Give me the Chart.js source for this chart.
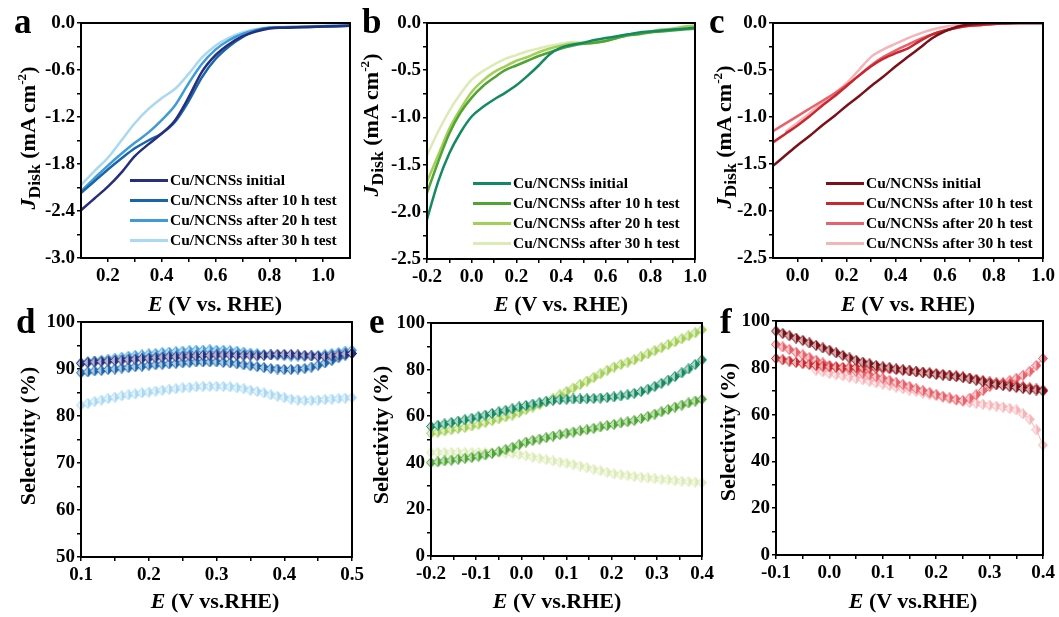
<!DOCTYPE html>
<html lang="en">
<head>
<meta charset="UTF-8">
<title>Cu/NCNSs stability</title>
<script src="https://cdn.jsdelivr.net/npm/chart.js"></script>
<style>
  body { margin: 0; background: #fff; }
  #fig { position: relative; width: 1059px; height: 617px; overflow: hidden;
         font-family: "Liberation Serif", "Times New Roman", serif; font-weight: bold; color: #000; }
  #fig canvas { position: absolute; left: 0; top: 0; }
  .lbl { position: absolute; white-space: nowrap; line-height: 1; }
  .letter { font-size: 35px; }
  .xt { font-size: 22px; transform: translateX(-50%); }
  .yt { font-size: 22px; transform: translate(-50%, -50%) rotate(-90deg); }
  .yt sub { font-size: 0.8em; vertical-align: -0.25em; }
  .yt sup { font-size: 0.6em; vertical-align: 0.7em; }
  .leg { position: absolute; font-size: 15.5px; line-height: 1; }
  .leg div { height: 20px; display: flex; align-items: center; white-space: nowrap; }
  .leg .sw { display: inline-block; width: 38px; height: 3px; margin-right: 2px; }
</style>
</head>
<body>
<div id="fig">
  <canvas id="pa" width="1059" height="617"></canvas>
  <canvas id="pb" width="1059" height="617"></canvas>
  <canvas id="pc" width="1059" height="617"></canvas>
  <canvas id="pd" width="1059" height="617"></canvas>
  <canvas id="pe" width="1059" height="617"></canvas>
  <canvas id="pf" width="1059" height="617"></canvas>

  <div class="lbl letter" style="left:14px;top:4px">a</div>
  <div class="lbl letter" style="left:362px;top:4px">b</div>
  <div class="lbl letter" style="left:709px;top:4px">c</div>
  <div class="lbl letter" style="left:16px;top:304px">d</div>
  <div class="lbl letter" style="left:369px;top:304px">e</div>
  <div class="lbl letter" style="left:720px;top:304px">f</div>

  <div class="lbl yt" style="left:29px;top:138px"><i>J</i><sub>Disk</sub> (mA cm<sup>-2</sup>)</div>
  <div class="lbl yt" style="left:372px;top:125px"><i>J</i><sub>Disk</sub> (mA cm<sup>-2</sup>)</div>
  <div class="lbl yt" style="left:725px;top:137px"><i>J</i><sub>Disk</sub> (mA cm<sup>-2</sup>)</div>
  <div class="lbl yt" style="left:28px;top:436px">Selectivity (%)</div>
  <div class="lbl yt" style="left:381px;top:435px">Selectivity (%)</div>
  <div class="lbl yt" style="left:728px;top:432px">Selectivity (%)</div>

  <div class="lbl xt" style="left:215px;top:293px"><i>E</i> (V vs. RHE)</div>
  <div class="lbl xt" style="left:561px;top:293px"><i>E</i> (V vs. RHE)</div>
  <div class="lbl xt" style="left:908px;top:293px"><i>E</i> (V vs. RHE)</div>
  <div class="lbl xt" style="left:215px;top:590px"><i>E</i> (V vs.RHE)</div>
  <div class="lbl xt" style="left:557px;top:590px"><i>E</i> (V vs.RHE)</div>
  <div class="lbl xt" style="left:913px;top:590px"><i>E</i> (V vs.RHE)</div>

  <div class="leg" id="lega" style="left:130px;top:170px"></div>
  <div class="leg" id="legb" style="left:473px;top:173px"></div>
  <div class="leg" id="legc" style="left:826px;top:173px"></div>
</div>

<script>
    // ---- series names ----
    const seriesNames = ['Cu/NCNSs initial', 'Cu/NCNSs after 10 h test', 'Cu/NCNSs after 20 h test', 'Cu/NCNSs after 30 h test'];

    // ---- panel a : LSV (blue) ----
    const aE    = [0.10, 0.15, 0.20, 0.25, 0.30, 0.35, 0.40, 0.45, 0.50, 0.55, 0.60, 0.65, 0.70, 0.75, 0.80, 0.85, 0.90, 0.95, 1.00, 1.05, 1.10];
    const aInit = [-2.39, -2.24, -2.09, -1.91, -1.70, -1.55, -1.41, -1.24, -0.95, -0.62, -0.41, -0.27, -0.17, -0.11, -0.07, -0.06, -0.055, -0.05, -0.045, -0.04, -0.035];
    const a10   = [-2.17, -2.02, -1.87, -1.73, -1.60, -1.50, -1.41, -1.26, -1.00, -0.69, -0.46, -0.30, -0.18, -0.10, -0.065, -0.06, -0.055, -0.05, -0.045, -0.04, -0.035];
    const a20   = [-2.15, -1.98, -1.82, -1.67, -1.53, -1.40, -1.24, -1.05, -0.77, -0.52, -0.34, -0.22, -0.14, -0.09, -0.06, -0.055, -0.05, -0.045, -0.04, -0.035, -0.03];
    const a30   = [-2.07, -1.89, -1.72, -1.50, -1.28, -1.10, -0.96, -0.84, -0.65, -0.44, -0.29, -0.19, -0.12, -0.08, -0.055, -0.05, -0.045, -0.04, -0.035, -0.03, -0.03];

    // ---- panel b : LSV (green) ----
    const bE    = [-0.20, -0.15, -0.10, -0.05, 0.00, 0.05, 0.10, 0.15, 0.20, 0.25, 0.30, 0.35, 0.40, 0.45, 0.50, 0.55, 0.60, 0.65, 0.70, 0.75, 0.80, 0.85, 0.90, 0.95, 1.00];
    const bInit = [-2.08, -1.68, -1.38, -1.16, -0.99, -0.89, -0.81, -0.74, -0.66, -0.56, -0.45, -0.33, -0.26, -0.23, -0.21, -0.18, -0.16, -0.14, -0.12, -0.10, -0.09, -0.08, -0.07, -0.06, -0.05];
    const b10   = [-1.80, -1.47, -1.17, -0.95, -0.79, -0.67, -0.58, -0.50, -0.45, -0.40, -0.35, -0.31, -0.27, -0.24, -0.22, -0.21, -0.19, -0.16, -0.13, -0.12, -0.10, -0.09, -0.08, -0.07, -0.06];
    const b20   = [-1.68, -1.40, -1.12, -0.91, -0.73, -0.61, -0.52, -0.46, -0.40, -0.36, -0.31, -0.27, -0.24, -0.22, -0.22, -0.21, -0.19, -0.16, -0.13, -0.11, -0.09, -0.07, -0.06, -0.04, -0.03];
    const b30   = [-1.40, -1.15, -0.93, -0.75, -0.60, -0.51, -0.44, -0.38, -0.34, -0.30, -0.27, -0.24, -0.22, -0.20, -0.20, -0.19, -0.17, -0.15, -0.13, -0.11, -0.09, -0.07, -0.06, -0.04, -0.02];

    // ---- panel c : LSV (red) ----
    const cE    = [-0.10, -0.05, 0.00, 0.05, 0.10, 0.15, 0.20, 0.25, 0.30, 0.35, 0.40, 0.45, 0.50, 0.55, 0.60, 0.65, 0.70, 0.75, 0.80, 0.85, 0.90, 0.95, 1.00];
    const cInit = [-1.52, -1.41, -1.30, -1.20, -1.09, -0.99, -0.88, -0.78, -0.67, -0.57, -0.46, -0.36, -0.26, -0.16, -0.09, -0.04, -0.015, -0.005, 0, 0, 0, 0, 0];
    const c10   = [-1.27, -1.18, -1.09, -0.99, -0.88, -0.78, -0.67, -0.56, -0.46, -0.38, -0.32, -0.27, -0.19, -0.12, -0.08, -0.05, -0.03, -0.02, -0.01, -0.005, 0, 0, 0];
    const c20   = [-1.15, -1.07, -0.99, -0.91, -0.83, -0.75, -0.66, -0.56, -0.45, -0.36, -0.29, -0.23, -0.17, -0.12, -0.08, -0.05, -0.03, -0.02, -0.01, -0.005, 0, 0, 0];
    const c30   = [null, -1.16, -1.06, -0.96, -0.85, -0.75, -0.64, -0.50, -0.36, -0.28, -0.22, -0.16, -0.11, -0.07, -0.04, -0.02, -0.01, -0.005, 0, 0, 0, 0, 0];

    // ---- panel d : selectivity (blue) ----
    const dE    = [0.10, 0.11, 0.12, 0.13, 0.14, 0.15, 0.16, 0.17, 0.18, 0.19, 0.20, 0.21, 0.22, 0.23, 0.24, 0.25, 0.26, 0.27, 0.28, 0.29, 0.30,
                   0.31, 0.32, 0.33, 0.34, 0.35, 0.36, 0.37, 0.38, 0.39, 0.40, 0.41, 0.42, 0.43, 0.44, 0.45, 0.46, 0.47, 0.48, 0.49, 0.50];
    const dInit = [91.2, 91.4, 91.5, 91.6, 91.7, 91.8, 91.9, 92.0, 92.1, 92.2, 92.3, 92.4, 92.5, 92.6, 92.6, 92.7, 92.8, 92.8, 92.9, 92.9, 93.0,
                   93.0, 93.0, 92.9, 92.9, 92.9, 92.8, 92.9, 93.0, 93.1, 93.1, 93.1, 93.0, 92.9, 92.8, 92.7, 92.7, 92.8, 93.0, 93.2, 93.3];
    const d10   = [89.2, 89.4, 89.6, 89.7, 89.9, 90.0, 90.2, 90.3, 90.5, 90.6, 90.8, 90.9, 91.0, 91.1, 91.2, 91.3, 91.4, 91.5, 91.5, 91.5, 91.5,
                   91.4, 91.3, 91.1, 90.9, 90.7, 90.5, 90.3, 90.1, 90.0, 89.9, 89.9, 90.0, 90.1, 90.4, 90.8, 91.3, 91.8, 92.4, 92.9, 93.3];
    const d20   = [91.3, 91.5, 91.7, 91.9, 92.1, 92.3, 92.5, 92.7, 92.9, 93.0, 93.2, 93.3, 93.5, 93.6, 93.7, 93.8, 93.9, 94.0, 94.0, 94.1, 94.0,
                   94.0, 93.9, 93.8, 93.6, 93.4, 93.3, 93.1, 93.0, 92.9, 92.8, 92.7, 92.7, 92.7, 92.8, 92.9, 93.1, 93.3, 93.5, 93.8, 94.0];
    const d30   = [82.3, 82.7, 83.1, 83.4, 83.7, 84.0, 84.3, 84.5, 84.7, 84.9, 85.1, 85.3, 85.5, 85.7, 85.8, 86.0, 86.1, 86.2, 86.3, 86.3, 86.3,
                   86.3, 86.2, 86.0, 85.8, 85.5, 85.2, 84.9, 84.5, 84.2, 83.9, 83.6, 83.4, 83.3, 83.3, 83.4, 83.5, 83.6, 83.7, 83.8, 83.9];

    // ---- panel e : selectivity (green) ----
    const eE    = [-0.200, -0.185, -0.170, -0.155, -0.140, -0.125, -0.110, -0.095, -0.080, -0.065, -0.050, -0.035, -0.020, -0.005,
                   0.010, 0.025, 0.040, 0.055, 0.070, 0.085, 0.100, 0.115, 0.130, 0.145, 0.160, 0.175, 0.190, 0.205,
                   0.220, 0.235, 0.250, 0.265, 0.280, 0.295, 0.310, 0.325, 0.340, 0.355, 0.370, 0.385, 0.400];
    const eInit = [55.6, 56.1, 56.7, 57.3, 57.9, 58.5, 59.1, 59.8, 60.5, 61.2, 61.9, 62.5, 63.2, 64.0,
                   64.6, 65.2, 65.8, 66.4, 66.8, 67.1, 67.3, 67.4, 67.4, 67.5, 67.6, 67.8, 68.0, 68.3,
                   68.7, 69.2, 69.8, 70.6, 71.6, 72.8, 74.1, 75.5, 77.0, 78.6, 80.3, 82.2, 84.2];
    const e10   = [40.1, 40.4, 40.8, 41.1, 41.5, 41.9, 42.3, 42.8, 43.4, 44.0, 44.8, 45.7, 46.7, 47.8,
                   48.9, 49.6, 50.2, 50.8, 51.5, 52.1, 52.7, 53.2, 53.7, 54.2, 54.8, 55.4, 56.0, 56.5,
                   57.1, 57.6, 58.2, 59.0, 59.9, 60.9, 61.9, 62.9, 63.9, 64.8, 65.7, 66.5, 67.3];
    const e20   = [52.7, 53.2, 53.7, 54.2, 54.7, 55.2, 55.8, 56.5, 57.3, 58.1, 58.9, 59.7, 60.5, 61.6,
                   62.8, 63.9, 65.0, 66.1, 67.6, 69.1, 70.6, 72.1, 73.6, 75.1, 76.6, 78.2, 79.7, 81.1,
                   82.2, 83.2, 84.2, 85.5, 86.8, 88.1, 89.4, 90.7, 91.9, 93.2, 94.5, 95.8, 97.1];
    const e30   = [44.4, 44.4, 44.4, 44.4, 44.4, 44.4, 44.4, 44.4, 44.4, 44.4, 44.3, 44.2, 44.0, 43.6,
                   43.0, 42.4, 41.9, 41.3, 40.8, 40.3, 39.8, 39.2, 38.6, 37.9, 37.2, 36.6, 35.9, 35.3,
                   34.9, 34.5, 34.1, 33.8, 33.5, 33.2, 32.9, 32.7, 32.4, 32.1, 31.9, 31.7, 31.5];

    // ---- panel f : selectivity (red) ----
    const fE    = [-0.1, -0.0875, -0.075, -0.0625, -0.05, -0.0375, -0.025, -0.0125, 0, 0.0125, 0.025, 0.0375, 0.05, 0.0625,
                   0.075, 0.0875, 0.1, 0.1125, 0.125, 0.1375, 0.15, 0.1625, 0.175, 0.1875, 0.2, 0.2125, 0.225, 0.2375,
                   0.25, 0.2625, 0.275, 0.2875, 0.3, 0.3125, 0.325, 0.3375, 0.35, 0.3625, 0.375, 0.3875, 0.4];
    const fInit = [95.7, 94.7, 93.7, 92.7, 91.7, 90.6, 89.6, 88.5, 87.5, 86.4, 85.3, 84.2, 83.2, 82.4,
                   81.7, 81.0, 80.4, 80.0, 79.5, 79.1, 78.7, 78.3, 77.9, 77.6, 77.2, 76.9, 76.5, 76.2,
                   75.8, 75.3, 74.7, 74.0, 73.3, 72.9, 72.4, 72.0, 71.6, 71.2, 70.8, 70.5, 70.1];
    const f10   = [84.0, 83.4, 82.9, 82.3, 81.8, 81.4, 81.0, 80.7, 80.4, 80.3, 80.2, 80.2, 80.1, 80.0,
                   79.9, 79.8, 79.7, 79.5, 79.2, 79.0, 78.7, 78.4, 78.1, 77.8, 77.5, 77.2, 76.8, 76.5,
                   76.1, 75.6, 75.1, 74.5, 74.0, 73.6, 73.2, 72.9, 72.5, 72.0, 71.5, 71.0, 70.5];
    const f20   = [90.0, 88.9, 87.8, 86.6, 85.5, 84.4, 83.2, 82.1, 81.0, 80.4, 79.7, 79.1, 78.5, 77.7,
                   77.0, 76.2, 75.5, 74.6, 73.7, 72.9, 72.0, 71.1, 70.2, 69.4, 68.5, 67.8, 67.1, 66.5,
                   66.0, 67.0, 68.5, 70.3, 72.0, 72.8, 73.6, 74.5, 75.5, 76.8, 78.5, 81.0, 84.0];
    const f30   = [null, null, null, null, null, null, 79.0, 78.3, 77.6, 77.1, 76.6, 76.0, 75.5, 74.9,
                   74.2, 73.6, 73.0, 72.4, 71.7, 71.1, 70.5, 69.9, 69.2, 68.6, 68.0, 67.4, 66.7, 66.1,
                   65.5, 65.1, 64.8, 64.4, 64.0, 63.6, 63.2, 62.6, 62.0, 60.3, 58.0, 53.5, 47.0];

    // ---- tick values and labels ----
    const aXTicks = [0.2, 0.4, 0.6, 0.8, 1.0],               aXLabels = ['0.2', '0.4', '0.6', '0.8', '1.0'];
    const aXMinor = [0.3, 0.5, 0.7, 0.9];
    const aYTicks = [0, -0.6, -1.2, -1.8, -2.4, -3.0],       aYLabels = ['0.0', '-0.6', '-1.2', '-1.8', '-2.4', '-3.0'];
    const aYMinor = [-0.3, -0.9, -1.5, -2.1, -2.7];
    const bXTicks = [-0.2, 0, 0.2, 0.4, 0.6, 0.8, 1.0],      bXLabels = ['-0.2', '0.0', '0.2', '0.4', '0.6', '0.8', '1.0'];
    const bXMinor = [-0.1, 0.1, 0.3, 0.5, 0.7, 0.9];
    const jYTicks = [0, -0.5, -1.0, -1.5, -2.0, -2.5],       jYLabels = ['0.0', '-0.5', '-1.0', '-1.5', '-2.0', '-2.5'];
    const jYMinor = [-0.25, -0.75, -1.25, -1.75, -2.25];
    const cXTicks = [0, 0.2, 0.4, 0.6, 0.8, 1.0],            cXLabels = ['0.0', '0.2', '0.4', '0.6', '0.8', '1.0'];
    const cXMinor = [0.1, 0.3, 0.5, 0.7, 0.9];
    const dXTicks = [0.1, 0.2, 0.3, 0.4, 0.5],               dXLabels = ['0.1', '0.2', '0.3', '0.4', '0.5'];
    const dXMinor = [0.15, 0.25, 0.35, 0.45];
    const dYTicks = [50, 60, 70, 80, 90, 100],               dYLabels = ['50', '60', '70', '80', '90', '100'];
    const dYMinor = [55, 65, 75, 85, 95];
    const eXTicks = [-0.2, -0.1, 0, 0.1, 0.2, 0.3, 0.4],     eXLabels = ['-0.2', '-0.1', '0.0', '0.1', '0.2', '0.3', '0.4'];
    const eXMinor = [-0.15, -0.05, 0.05, 0.15, 0.25, 0.35];
    const sYTicks = [0, 20, 40, 60, 80, 100],                sYLabels = ['0', '20', '40', '60', '80', '100'];
    const sYMinor = [10, 30, 50, 70, 90];
    const fXTicks = [-0.1, 0, 0.1, 0.2, 0.3, 0.4],           fXLabels = ['-0.1', '0.0', '0.1', '0.2', '0.3', '0.4'];
    const fXMinor = [-0.05, 0.05, 0.15, 0.25, 0.35];

    const blues  = ['#252f7c', '#1965a9', '#3e9bd8', '#a9d9f2'];
    const greens = ['#148a62', '#4fa533', '#a3cf56', '#dcebb6'];
    const reds   = ['#7b1118', '#c9282f', '#e8626b', '#f5b4b7'];

    const FONT = '"Liberation Serif", "Times New Roman", serif';

    const framePlugin = {
        id: 'frame',
        afterDraw(chart) {
            const { ctx, chartArea: a } = chart;
            ctx.save();
            ctx.strokeStyle = '#000';
            ctx.lineWidth = 2;
            ctx.strokeRect(a.left, a.top, a.right - a.left, a.bottom - a.top);
            ctx.restore();
        }
    };

    function pts(xs, ys) {
        return xs.map((x, i) => ({ x: x, y: ys[i] }));
    }

    // half filled diamond, like the Origin markers
    function marker(color) {
        const c = document.createElement('canvas');
        c.width = 10; c.height = 11;
        const g = c.getContext('2d');
        g.beginPath();
        g.moveTo(5, 0.5); g.lineTo(9.5, 5.5); g.lineTo(5, 10.5); g.lineTo(0.5, 5.5); g.closePath();
        g.fillStyle = '#fff'; g.fill();
        g.globalAlpha = 0.35; g.fillStyle = color; g.fill();
        g.globalAlpha = 1;
        g.strokeStyle = color; g.lineWidth = 1; g.stroke();
        g.beginPath();
        g.moveTo(5, 0.5); g.lineTo(9.5, 5.5); g.lineTo(5, 10.5); g.closePath();
        g.fill();
        return c;
    }

    function lsv(xs, ys, color) {
        return { data: pts(xs, ys), showLine: true, borderColor: color, borderWidth: 2.5,
                 pointRadius: 0, cubicInterpolationMode: 'monotone' };
    }

    function sel(xs, ys, color) {
        return { data: pts(xs, ys), showLine: true, borderColor: color, borderWidth: 1,
                 pointStyle: marker(color), pointRadius: 5, clip: false };
    }

    function axis(dir, min, max, major, labels, minor) {
        return {
            type: 'linear', min: min, max: max,
            afterBuildTicks: s => {
                s.ticks = major.concat(minor).sort((p, q) => p - q).map(v => ({ value: v }));
            },
            afterFit: s => {
                if (dir === 'x') s.height = 40; else s.width = 70;
            },
            ticks: {
                autoSkip: false, maxRotation: 0, padding: dir === 'x' ? 3 : 2, color: '#000',
                font: { family: FONT, size: 19, weight: 'bold' },
                callback: v => {
                    const i = major.findIndex(m => Math.abs(m - v) < 1e-9);
                    return i < 0 ? '' : labels[i];
                }
            },
            grid: { drawOnChartArea: false, drawTicks: true, tickLength: 4, color: '#000', lineWidth: 1.5 },
            border: { display: false }
        };
    }

    function panel(id, box, xAxis, yAxis, datasets) {
        new Chart(document.getElementById(id), {
            type: 'scatter',
            data: { datasets: datasets },
            options: {
                responsive: false, animation: false, events: [],
                layout: { padding: { left: box.l - 70, top: box.t, right: 1059 - box.r, bottom: 617 - box.b - 40 } },
                plugins: { legend: { display: false }, tooltip: { enabled: false } },
                scales: { x: xAxis, y: yAxis }
            },
            plugins: [framePlugin]
        });
    }

    panel('pa', { l: 81, t: 23, r: 350, b: 258 },
        axis('x', 0.1, 1.1, aXTicks, aXLabels, aXMinor),
        axis('y', -3.0, 0, aYTicks, aYLabels, aYMinor),
        [lsv(aE, aInit, blues[0]), lsv(aE, a10, blues[1]), lsv(aE, a20, blues[2]), lsv(aE, a30, blues[3])]);

    panel('pb', { l: 427, t: 23, r: 695, b: 259 },
        axis('x', -0.2, 1.0, bXTicks, bXLabels, bXMinor),
        axis('y', -2.5, 0, jYTicks, jYLabels, jYMinor),
        [lsv(bE, bInit, greens[0]), lsv(bE, b10, greens[1]), lsv(bE, b20, greens[2]), lsv(bE, b30, greens[3])]);

    panel('pc', { l: 773, t: 23, r: 1043, b: 258 },
        axis('x', -0.1, 1.0, cXTicks, cXLabels, cXMinor),
        axis('y', -2.5, 0, jYTicks, jYLabels, jYMinor),
        [lsv(cE, cInit, reds[0]), lsv(cE, c10, reds[1]), lsv(cE, c20, reds[2]), lsv(cE, c30, reds[3])]);

    panel('pd', { l: 81, t: 322, r: 352, b: 557 },
        axis('x', 0.1, 0.5, dXTicks, dXLabels, dXMinor),
        axis('y', 50, 100, dYTicks, dYLabels, dYMinor),
        [sel(dE, dInit, blues[0]), sel(dE, d10, blues[1]), sel(dE, d20, blues[2]), sel(dE, d30, blues[3])]);

    panel('pe', { l: 431, t: 323, r: 702, b: 556 },
        axis('x', -0.2, 0.4, eXTicks, eXLabels, eXMinor),
        axis('y', 0, 100, sYTicks, sYLabels, sYMinor),
        [sel(eE, eInit, greens[0]), sel(eE, e10, greens[1]), sel(eE, e20, greens[2]), sel(eE, e30, greens[3])]);

    panel('pf', { l: 776, t: 321, r: 1043, b: 555 },
        axis('x', -0.1, 0.4, fXTicks, fXLabels, fXMinor),
        axis('y', 0, 100, sYTicks, sYLabels, sYMinor),
        [sel(fE, fInit, reds[0]), sel(fE, f10, reds[1]), sel(fE, f20, reds[2]), sel(fE, f30, reds[3])]);

    // legends of the top row
    function legend(id, colors) {
        const box = document.getElementById(id);
        seriesNames.forEach((name, i) => {
            const row = document.createElement('div');
            row.innerHTML = '<span class="sw" style="background:' + colors[i] + '"></span>' + name;
            box.appendChild(row);
        });
    }
    legend('lega', blues);
    legend('legb', greens);
    legend('legc', reds);
</script>
</body>
</html>
